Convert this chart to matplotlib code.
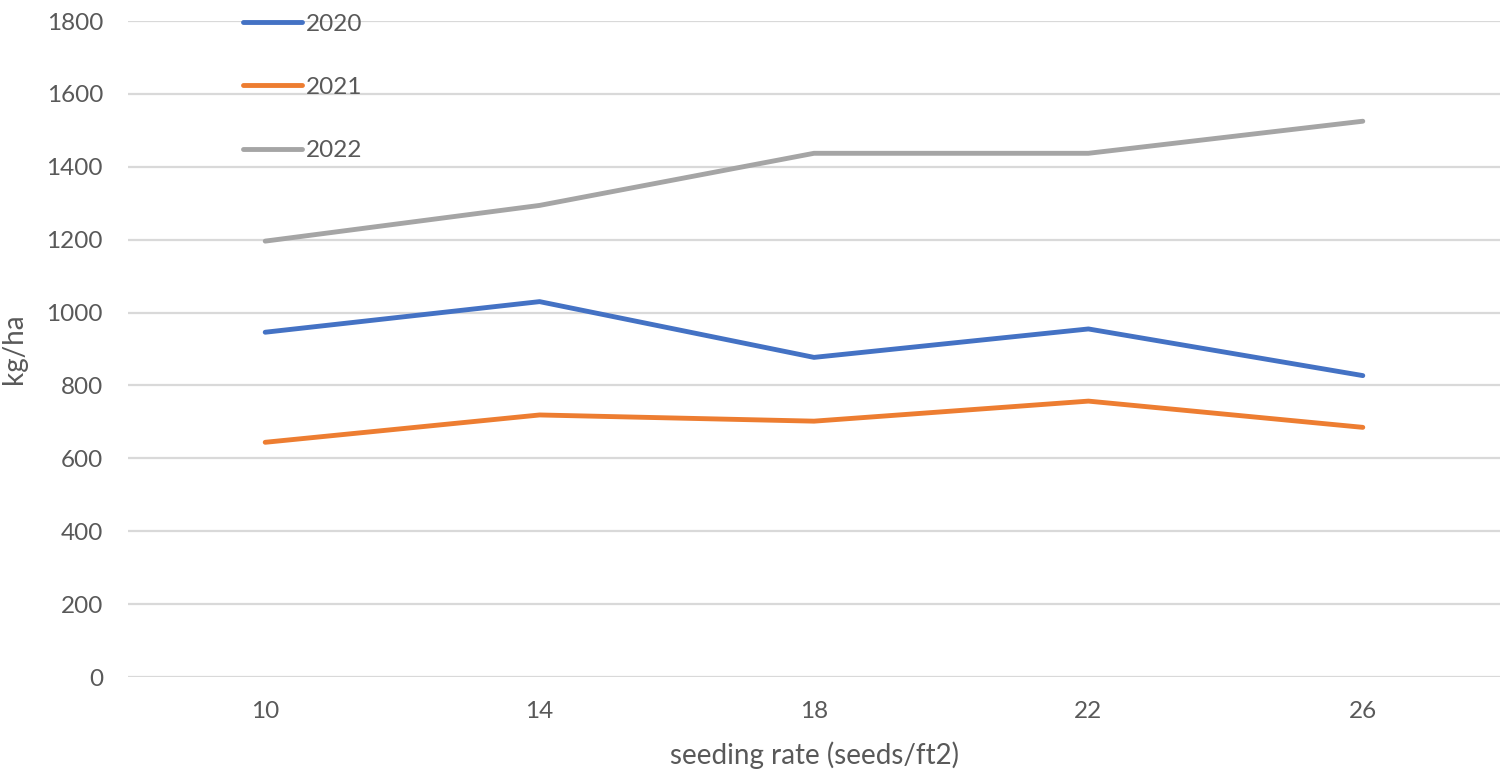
import matplotlib
matplotlib.use("Agg")
import matplotlib.pyplot as plt

# Seeding-rate trial: yield by year
seeding_rates = ["10", "14", "18", "22", "26"]
yield_2020 = [946, 1030, 877, 955, 827]
yield_2021 = [644, 719, 702, 757, 685]
yield_2022 = [1196, 1294, 1437, 1437, 1525]
series_labels = ["2020", "2021", "2022"]
y_ticks = [0, 200, 400, 600, 800, 1000, 1200, 1400, 1600, 1800]

colors = ["#4472C4", "#ED7D31", "#A5A5A5"]
text_color = "#595959"
plt.rcParams["font.family"] = ["Lato", "DejaVu Sans"]

fig = plt.figure(figsize=(15.02, 7.72), dpi=100)
ax = fig.add_axes([128 / 1502, 1 - 677 / 772, 1372 / 1502, 656 / 772])

x = list(range(len(seeding_rates)))
for vals, lab, col in zip([yield_2020, yield_2021, yield_2022], series_labels, colors):
    ax.plot(x, vals, color=col, lw=3.5, solid_capstyle="round",
            solid_joinstyle="round", label=lab)

ax.set_xlim(-0.5, len(seeding_rates) - 0.5)
ax.set_ylim(0, 1800)
ax.set_yticks(y_ticks)
ax.set_xticks(x)
ax.set_xticklabels(seeding_rates)
ax.grid(axis="y", color="#D9D9D9", lw=1.6)
ax.set_axisbelow(True)
for s in ax.spines.values():
    s.set_visible(False)
ax.tick_params(axis="both", length=0, labelsize=17.5, colors=text_color)
ax.tick_params(axis="y", pad=18)
ax.tick_params(axis="x", pad=17)

ax.set_xlabel("seeding rate (seeds/ft2)", fontsize=20, color=text_color, labelpad=14)
ax.set_ylabel("kg/ha", fontsize=20, color=text_color, labelpad=14)

leg = ax.legend(loc="upper left", bbox_to_anchor=(0.0767, 1.026), frameon=False,
                fontsize=17.5, handlelength=2.43, handletextpad=0.15,
                labelspacing=1.74, borderaxespad=0)
for t in leg.get_texts():
    t.set_color(text_color)

fig.savefig("out.png", dpi=100)
